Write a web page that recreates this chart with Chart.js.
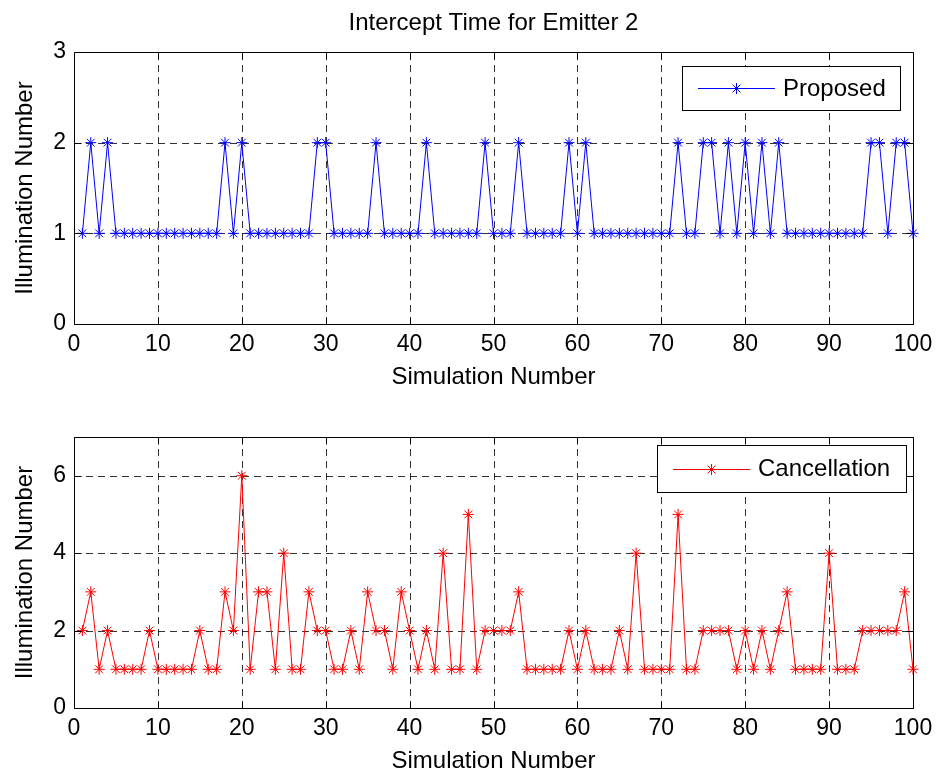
<!DOCTYPE html>
<html>
<head>
<meta charset="utf-8">
<title>Intercept Time for Emitter 2</title>
<script src="https://cdn.jsdelivr.net/npm/chart.js@4.4.1/dist/chart.umd.min.js"></script>
<style>
  body { margin: 0; background: #fff; }
  #topBox { position: absolute; left: 0; top: 0; width: 938px; height: 400px; }
  #bottomBox { position: absolute; left: 0; top: 400px; width: 938px; height: 373px; }
</style>
</head>
<body>
<div id="topBox"><canvas id="chartTop"></canvas></div>
<div id="bottomBox"><canvas id="chartBottom"></canvas></div>
<script>
// simulation runs 1..100
const simulations = Array.from({ length: 100 }, (_, i) => i + 1);

const proposed = [
  1, 2, 1, 2, 1, 1, 1, 1, 1, 1,
  1, 1, 1, 1, 1, 1, 1, 2, 1, 2,
  1, 1, 1, 1, 1, 1, 1, 1, 2, 2,
  1, 1, 1, 1, 1, 2, 1, 1, 1, 1,
  1, 2, 1, 1, 1, 1, 1, 1, 2, 1,
  1, 1, 2, 1, 1, 1, 1, 1, 2, 1,
  2, 1, 1, 1, 1, 1, 1, 1, 1, 1,
  1, 2, 1, 1, 2, 2, 1, 2, 1, 2,
  1, 2, 1, 2, 1, 1, 1, 1, 1, 1,
  1, 1, 1, 1, 2, 2, 1, 2, 2, 1
];

const cancellation = [
  2, 3, 1, 2, 1, 1, 1, 1, 2, 1,
  1, 1, 1, 1, 2, 1, 1, 3, 2, 6,
  1, 3, 3, 1, 4, 1, 1, 3, 2, 2,
  1, 1, 2, 1, 3, 2, 2, 1, 3, 2,
  1, 2, 1, 4, 1, 1, 5, 1, 2, 2,
  2, 2, 3, 1, 1, 1, 1, 1, 2, 1,
  2, 1, 1, 1, 2, 1, 4, 1, 1, 1,
  1, 5, 1, 1, 2, 2, 2, 2, 1, 2,
  1, 2, 1, 2, 3, 1, 1, 1, 1, 4,
  1, 1, 1, 2, 2, 2, 2, 2, 3, 1
];

const xTicks = { min: 0, max: 100, step: 10 };
const topYTicks = { min: 0, max: 3, step: 1 };
const bottomYTicks = { min: 0, max: 7, step: 2 };

const FONT = "'Liberation Sans', Arial, Helvetica, sans-serif";
Chart.defaults.font.family = FONT;
Chart.defaults.color = '#000';

function drawStar(ctx, cx, cy, r) {
  const d = r * Math.SQRT1_2;
  ctx.beginPath();
  ctx.moveTo(cx - r, cy); ctx.lineTo(cx + r, cy);
  ctx.moveTo(cx, cy - r); ctx.lineTo(cx, cy + r);
  ctx.moveTo(cx - d, cy - d); ctx.lineTo(cx + d, cy + d);
  ctx.moveTo(cx - d, cy + d); ctx.lineTo(cx + d, cy - d);
  ctx.stroke();
}

// dashed grid underneath, solid box + inward ticks + boxed legend on top
const matlabAxes = {
  id: 'matlabAxes',
  beforeDatasetsDraw(chart) {
    const { ctx, chartArea: a, scales: { x, y } } = chart;
    ctx.save();
    ctx.strokeStyle = 'rgba(0,0,0,0.8)';
    ctx.lineWidth = 1;
    ctx.setLineDash([7, 5]);
    ctx.beginPath();
    x.ticks.forEach(t => {
      if (t.value <= x.min || t.value >= x.max) return;
      const px = Math.round(x.getPixelForValue(t.value)) + 0.5;
      ctx.moveTo(px, a.bottom);
      ctx.lineTo(px, a.top);
    });
    y.ticks.forEach(t => {
      if (t.value <= y.min || t.value >= y.max) return;
      const py = Math.round(y.getPixelForValue(t.value)) + 0.5;
      ctx.moveTo(a.left, py);
      ctx.lineTo(a.right, py);
    });
    ctx.stroke();
    ctx.restore();
  },
  afterDatasetsDraw(chart, args, opts) {
    const { ctx, chartArea: a, scales: { x, y } } = chart;
    const L = Math.round(a.left) + 0.5, R = Math.round(a.right) + 0.5;
    const T = Math.round(a.top) + 0.5, B = Math.round(a.bottom) + 0.5;
    const tick = 7;
    ctx.save();
    ctx.strokeStyle = '#000';
    ctx.lineWidth = 1;
    ctx.beginPath();
    ctx.rect(L, T, R - L, B - T);
    x.ticks.forEach(t => {
      const px = Math.round(x.getPixelForValue(t.value)) + 0.5;
      ctx.moveTo(px, B); ctx.lineTo(px, B - tick);
      ctx.moveTo(px, T); ctx.lineTo(px, T + tick);
    });
    y.ticks.forEach(t => {
      const py = Math.round(y.getPixelForValue(t.value)) + 0.5;
      ctx.moveTo(L, py); ctx.lineTo(L + tick, py);
      ctx.moveTo(R, py); ctx.lineTo(R - tick, py);
    });
    ctx.stroke();

    // legend
    const lg = opts.legend;
    const ds = chart.data.datasets[0];
    const cy = lg.top + lg.height / 2;
    ctx.fillStyle = '#fff';
    ctx.fillRect(lg.left, lg.top, lg.width, lg.height);
    ctx.strokeRect(lg.left + 0.5, lg.top + 0.5, lg.width, lg.height);
    ctx.strokeStyle = ds.borderColor;
    ctx.beginPath();
    ctx.moveTo(lg.lineFrom, Math.round(cy) + 0.5);
    ctx.lineTo(lg.lineTo, Math.round(cy) + 0.5);
    ctx.stroke();
    drawStar(ctx, (lg.lineFrom + lg.lineTo) / 2, Math.round(cy) + 0.5, 5.5);
    ctx.fillStyle = '#000';
    ctx.font = '24px ' + FONT;
    ctx.textBaseline = 'middle';
    ctx.textAlign = 'left';
    ctx.fillText(ds.label, lg.textX, cy + 1);
    ctx.restore();
  }
};

function makeChart(canvasId, label, values, color, yTicks, layout) {
  const points = values.map((v, i) => ({ x: simulations[i], y: v }));
  return new Chart(document.getElementById(canvasId), {
    type: 'line',
    data: {
      datasets: [{
        label: label,
        data: points,
        borderColor: color,
        borderWidth: 1,
        pointStyle: 'star',
        pointRadius: 5.5,
        pointBorderWidth: 1,
        pointBorderColor: color,
        pointBackgroundColor: color,
        tension: 0,
        clip: false
      }]
    },
    options: {
      responsive: true,
      maintainAspectRatio: false,
      animation: false,
      events: [],
      layout: { padding: layout.padding },
      plugins: {
        legend: { display: false },
        tooltip: { enabled: false },
        title: layout.title,
        matlabAxes: { legend: layout.legend }
      },
      scales: {
        x: {
          type: 'linear',
          position: 'bottom',
          min: xTicks.min,
          max: xTicks.max,
          grid: { display: false, drawTicks: false },
          border: { display: false },
          ticks: {
            stepSize: xTicks.step,
            autoSkip: false,
            maxRotation: 0,
            padding: 5.5,
            font: { size: 23, lineHeight: 1.35 }
          },
          title: {
            display: true,
            text: 'Simulation Number',
            font: { size: 24, lineHeight: 1 },
            padding: { top: 0, bottom: layout.xTitleBottom }
          },
          afterFit(scale) { scale.height = layout.xAxisHeight; }
        },
        y: {
          type: 'linear',
          min: yTicks.min,
          max: yTicks.max,
          grid: { display: false, drawTicks: false },
          border: { display: false },
          ticks: {
            stepSize: yTicks.step,
            includeBounds: false,
            padding: 8,
            font: { size: 23, lineHeight: 1 }
          },
          title: {
            display: true,
            text: 'Illumination Number',
            font: { size: 24, lineHeight: 1 },
            padding: { top: 13, bottom: 0 }
          },
          afterFit(scale) { scale.width = 74; }
        }
      }
    },
    plugins: [matlabAxes]
  });
}

makeChart('chartTop', 'Proposed', proposed, '#0000ff', topYTicks, {
  padding: { top: 0, right: 25, bottom: 0, left: 0 },
  title: {
    display: true,
    text: 'Intercept Time for Emitter 2',
    fullSize: false,
    color: '#000',
    font: { size: 24, weight: 'normal', lineHeight: 1 },
    padding: { top: 11, bottom: 17 }
  },
  xAxisHeight: 76,
  xTitleBottom: 11,
  legend: { left: 682, top: 66, width: 218, height: 44, lineFrom: 698, lineTo: 775, textX: 783 }
});

makeChart('chartBottom', 'Cancellation', cancellation, '#ff0000', bottomYTicks, {
  padding: { top: 37, right: 25, bottom: 0, left: 0 },
  title: { display: false },
  xAxisHeight: 65,
  xTitleBottom: 0,
  legend: { left: 657, top: 45, width: 249, height: 47, lineFrom: 673, lineTo: 750, textX: 758 }
});
</script>
</body>
</html>
